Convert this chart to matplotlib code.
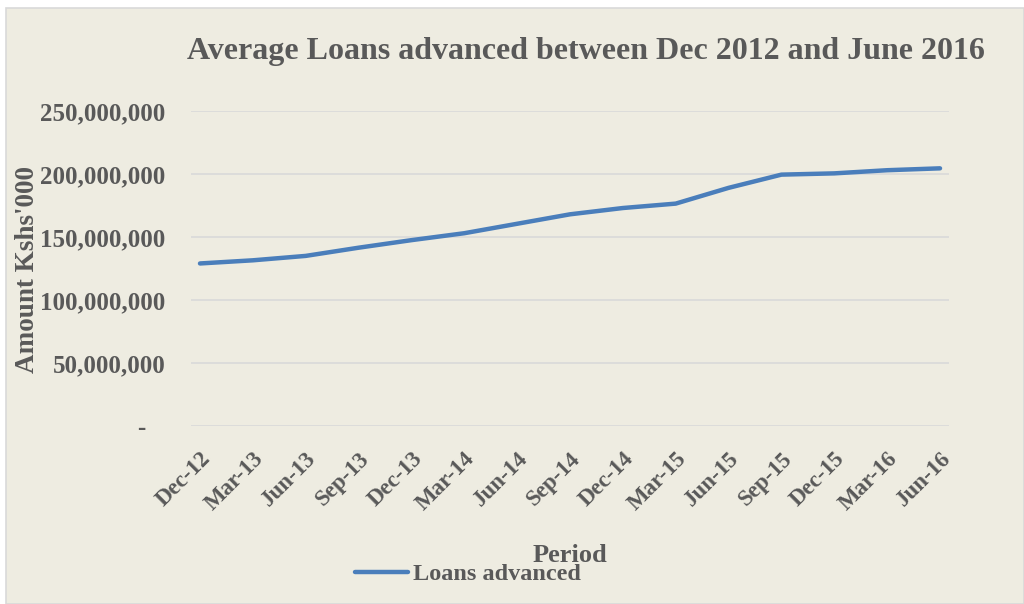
import matplotlib
matplotlib.use("Agg")
import matplotlib.pyplot as plt
from matplotlib.patches import Rectangle
from matplotlib.lines import Line2D
from matplotlib.ticker import FuncFormatter

periods = ["Dec-12", "Mar-13", "Jun-13", "Sep-13", "Dec-13", "Mar-14", "Jun-14",
           "Sep-14", "Dec-14", "Mar-15", "Jun-15", "Sep-15", "Dec-15", "Mar-16", "Jun-16"]
loans_advanced = [129_000_000, 131_500_000, 135_000_000, 141_500_000, 147_500_000,
                  153_000_000, 160_500_000, 168_000_000, 173_000_000, 176_500_000,
                  189_000_000, 199_500_000, 200_500_000, 203_000_000, 204_500_000]
y_ticks = [0, 50_000_000, 100_000_000, 150_000_000, 200_000_000, 250_000_000]

W, H = 1024, 604
BG = "#EEECE1"
TEXT = "#595959"
LINE = "#4A7EBB"
SERIF = ["Liberation Serif", "DejaVu Serif"]

fig = plt.figure(figsize=(W / 100, H / 100), dpi=100, facecolor="white")

# chart area panel with thin border
fig.patches.append(Rectangle((6 / W, 0), 1 - 6 / W, 1 - 8 / H, transform=fig.transFigure,
                             facecolor=BG, edgecolor="#D9D9D9", linewidth=1.2, zorder=-10))

left, right = 191 / W, 949 / W
bottom, top = 1 - 426 / H, 1 - 111 / H
ax = fig.add_axes([left, bottom, right - left, top - bottom], zorder=2)
ax.set_facecolor(BG)
ax.patch.set_alpha(0)

x = list(range(len(periods)))
ax.plot(x, loans_advanced, color=LINE, linewidth=3.2, solid_capstyle="round",
        solid_joinstyle="round", zorder=3)

ax.set_xlim(-0.17, len(periods) - 1 + 0.17)
ax.set_ylim(0, 250_000_000)
ax.set_yticks(y_ticks)
# accounting-style labels: zero shown as a dash padded on the right
ax.yaxis.set_major_formatter(FuncFormatter(lambda v, p: "-   " if v == 0 else f"{int(v):,}"))
ax.grid(axis="y", color="#D9D9D9", linewidth=1.2)
ax.set_axisbelow(True)
for s in ax.spines.values():
    s.set_visible(False)
ax.tick_params(axis="both", length=0)
ax.tick_params(axis="y", pad=18.5)

for lab in ax.get_yticklabels():
    lab.set_fontfamily(SERIF)
    lab.set_fontweight("bold")
    lab.set_fontsize(18)
    lab.set_color(TEXT)

ax.set_xticks(x)
ax.set_xticklabels(periods, rotation=45, ha="right", rotation_mode="anchor",
                   fontfamily=SERIF, fontweight="bold", fontsize=16.5, color=TEXT)
ax.tick_params(axis="x", pad=16)

fig.text(586 / W, 1 - 51 / H, "Average Loans advanced between Dec 2012 and June 2016",
         ha="center", va="center", fontfamily=SERIF, fontweight="bold",
         fontsize=23, color=TEXT)

fig.text(28 / W, 1 - 270 / H, "Amount Kshs'000", rotation=90, ha="center", va="center",
         fontfamily=SERIF, fontweight="bold", fontsize=19.5, color=TEXT)

fig.text(570 / W, 1 - 555 / H, "Period", ha="center", va="center",
         fontfamily=SERIF, fontweight="bold", fontsize=19, color=TEXT)

# legend entry at the bottom
fig.lines.append(Line2D([355 / W, 408 / W], [1 - 572 / H, 1 - 572 / H],
                        transform=fig.transFigure, color=LINE, linewidth=3.2,
                        solid_capstyle="round"))
fig.text(413 / W, 1 - 574 / H, "Loans advanced", ha="left", va="center",
         fontfamily=SERIF, fontweight="bold", fontsize=17.5, color=TEXT)

fig.savefig("out.png", dpi=100, facecolor="white")
